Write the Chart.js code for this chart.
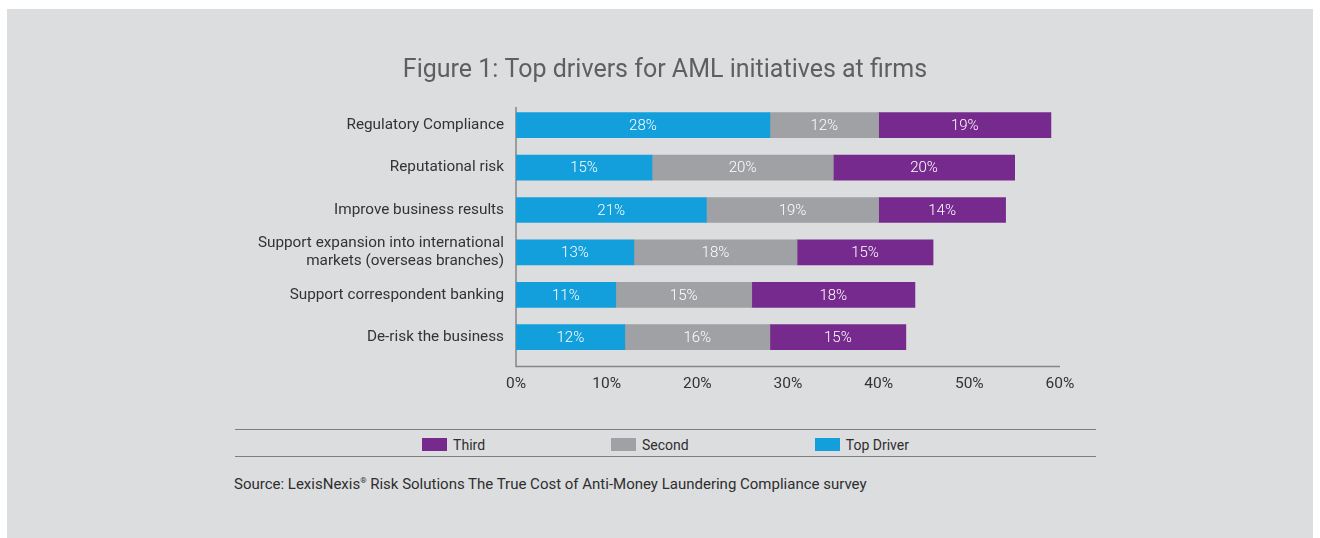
<!DOCTYPE html>
<html>
<head>
<meta charset="utf-8">
<script src="https://cdn.jsdelivr.net/npm/chart.js@4/dist/chart.umd.min.js"></script>
<style>
  html, body { margin: 0; padding: 0; background: #ffffff; }
  body { width: 1320px; height: 538px; position: relative; overflow: hidden; font-family: Roboto, "Noto Sans", sans-serif; }
  .panel { position: absolute; left: 7px; top: 9px; width: 1306px; height: 529px; background: #dcdddf; }
  .chart-box { position: absolute; left: 0; top: 0; width: 1320px; height: 400px; }
  .legend { position: absolute; left: 235px; top: 429px; width: 861px; height: 26px;
            border-top: 1.5px solid #7d7e80; border-bottom: 1.5px solid #7d7e80;
            display: flex; justify-content: center; align-items: center; gap: 126px; }
  .legend .item { display: flex; align-items: center; font-size: 14px; color: #2e2e2e; padding-top: 3px; }
  .legend .swatch { width: 25px; height: 13px; margin-right: 6px; }
  .source { position: absolute; left: 234px; top: 475px; font-size: 15px; color: #2e2e2e; }
  .source sup { font-size: 8px; }
</style>
</head>
<body>
<div class="panel"></div>
<div class="chart-box"><canvas id="amlChart"></canvas></div>
<div class="legend" id="legend"></div>
<div class="source">Source: LexisNexis<sup>®</sup> Risk Solutions The True Cost of Anti-Money Laundering Compliance survey</div>

<script>
// datos
const categories = [
    'Regulatory Compliance',
    'Reputational risk',
    'Improve business results',
    ['Support expansion into international', 'markets (overseas branches)'],
    'Support correspondent banking',
    'De-risk the business'
];
const topDriver = [28, 15, 21, 13, 11, 12];
const second = [12, 20, 19, 18, 15, 16];
const third = [19, 20, 14, 15, 18, 15];
const xTicks = [0, 10, 20, 30, 40, 50, 60];

const seriesNames = ['Top Driver', 'Second', 'Third'];
const seriesColors = ['#139fdb', '#a0a1a4', '#772a8e'];

// etiquetas blancas dentro de cada segmento
const barLabels = {
    id: 'barLabels',
    afterDatasetsDraw(chart) {
        const ctx = chart.ctx;
        ctx.save();
        ctx.fillStyle = '#ffffff';
        ctx.font = '300 15px Roboto, "Noto Sans", sans-serif';
        ctx.textAlign = 'center';
        ctx.textBaseline = 'middle';
        chart.data.datasets.forEach((ds, i) => {
            chart.getDatasetMeta(i).data.forEach((bar, j) => {
                const cx = (bar.x + bar.base) / 2;
                ctx.fillText(ds.data[j] + '%', cx, bar.y + 1);
            });
        });
        ctx.restore();
    }
};

// ejes: linea vertical y horizontal algo mas largas que el area
const axisLines = {
    id: 'axisLines',
    beforeDatasetsDraw(chart) {
        const { ctx, chartArea } = chart;
        const xs = chart.scales.x;
        const yBottom = chartArea.bottom + 8;
        ctx.save();
        ctx.strokeStyle = '#86878a';
        ctx.lineWidth = 1.5;
        ctx.beginPath();
        ctx.moveTo(chartArea.left, chartArea.top + 3);
        ctx.lineTo(chartArea.left, yBottom);
        ctx.lineTo(xs.getPixelForValue(xTicks[xTicks.length - 1]), yBottom);
        ctx.stroke();
        ctx.restore();
    }
};

function buildLegend() {
    const el = document.getElementById('legend');
    el.innerHTML = [2, 1, 0].map(i =>
        `<div class="item"><span class="swatch" style="background:${seriesColors[i]}"></span>${seriesNames[i]}</div>`
    ).join('');
}

function renderChart() {
    const ctx = document.getElementById('amlChart').getContext('2d');
    new Chart(ctx, {
        type: 'bar',
        data: {
            labels: categories,
            datasets: [
                { label: seriesNames[0], data: topDriver, backgroundColor: seriesColors[0] },
                { label: seriesNames[1], data: second, backgroundColor: seriesColors[1] },
                { label: seriesNames[2], data: third, backgroundColor: seriesColors[2] }
            ]
        },
        options: {
            indexAxis: 'y',
            responsive: true,
            maintainAspectRatio: false,
            animation: false,
            datasets: { bar: { barThickness: 25 } },
            layout: { padding: { left: 250, right: 240, top: 0, bottom: 0 } },
            plugins: {
                legend: { display: false },
                tooltip: { enabled: false },
                title: {
                    display: true,
                    text: 'Figure 1: Top drivers for AML initiatives at firms',
                    color: '#5e5f61',
                    font: { family: 'Roboto', size: 25, weight: 'normal' },
                    padding: { top: 56, bottom: 18 }
                }
            },
            scales: {
                x: {
                    stacked: true,
                    min: 0,
                    max: 60,
                    grid: { display: false },
                    border: { display: false },
                    afterBuildTicks: (scale) => { scale.ticks = xTicks.map(v => ({ value: v })); },
                    afterFit: (scale) => { scale.height = 41.6; },
                    ticks: {
                        padding: 8,
                        color: '#333333',
                        font: { family: 'Roboto', size: 15.5 },
                        callback: (v) => v + '%'
                    }
                },
                y: {
                    stacked: true,
                    grid: { display: false },
                    border: { display: false },
                    afterFit: (scale) => { scale.width = 266; },
                    ticks: {
                        padding: 4,
                        color: '#333333',
                        font: { family: 'Roboto', size: 15.3, lineHeight: 1.15 }
                    }
                },
                // eje vacio a la derecha para centrar el titulo sobre la figura
                yRight: {
                    type: 'category',
                    position: 'right',
                    grid: { display: false },
                    border: { display: false },
                    ticks: { display: false },
                    afterFit: (scale) => { scale.width = 20; }
                }
            }
        },
        plugins: [axisLines, barLabels]
    });
}

buildLegend();
renderChart();
</script>
</body>
</html>
